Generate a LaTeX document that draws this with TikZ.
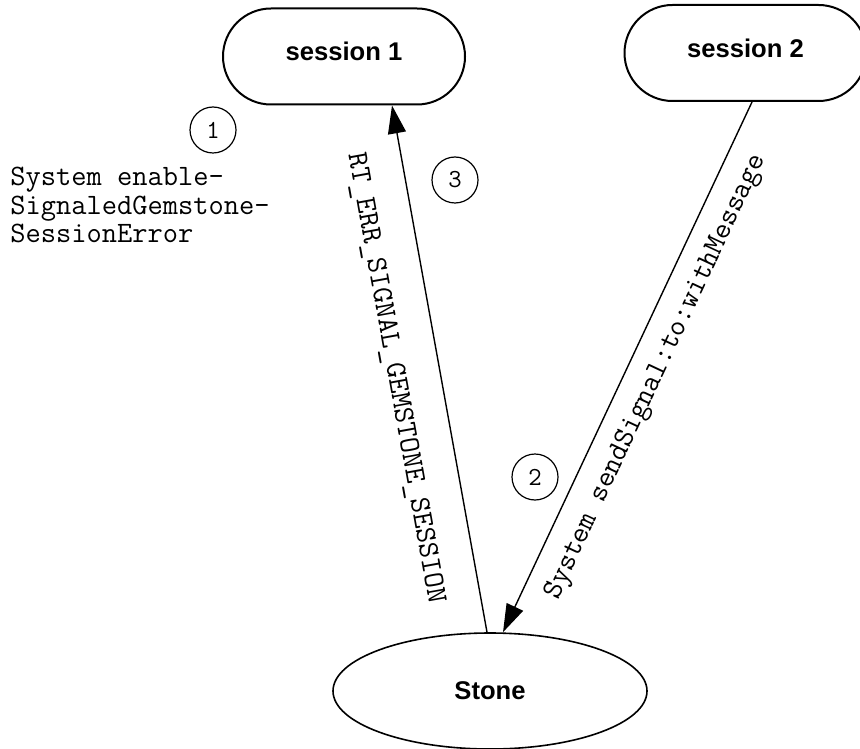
\documentclass[tikz,border=0pt]{standalone}
\usepackage{fontspec}
\setsansfont{Liberation Sans}
\usetikzlibrary{shapes.misc,shapes.geometric}
\usetikzlibrary{arrows,arrows.meta}
\usetikzlibrary{calc}

\begin{document}
\begin{tikzpicture}[x=0.5pt,y=-0.5pt,
    sess/.style={draw, line width=1pt, rounded rectangle, minimum width=121pt, minimum height=48pt, inner sep=0pt,
        font={\sffamily\bfseries\fontsize{12.8}{15}\selectfont}, text height=9.3pt, text depth=5pt},
    stoneshape/.style={draw, line width=0.8pt, ellipse, minimum width=157pt, minimum height=58pt, inner sep=0pt,
        font={\sffamily\bfseries\fontsize{12.8}{15}\selectfont}},
    num/.style={draw, circle, line width=0.6pt, minimum size=23pt, inner sep=0pt, font={\ttfamily\fontsize{13}{14}\selectfont}},
    lbl/.style={inner sep=0pt, font={\ttfamily\fontsize{14.8}{14.25}\selectfont}},
    arr/.style={line width=0.7pt, -{Triangle[length=14pt,width=9pt]}}]

    \useasboundingbox (0,0) rectangle (860,748);

    \node[sess] (s1) at (344,56.5) {session 1};
    \node[sess] (s2) at (745.5,53) {session 2};
    \node[stoneshape] (stone) at (490,691) {Stone};

    \node[num] (n1) at (213,130) {1};
    \node[num] (n3) at (455,180) {3};
    \node[num] (n2) at (535,477) {2};

    % signal path
    \draw[arr] ([xshift=3.25pt]s2.south) -- ([xshift=6.5pt]stone.north);
    \draw[arr] ([xshift=-1.5pt]stone.north) -- ([xshift=24pt]s1.south);

    \node[lbl, align=left, anchor=north west] (enlbl) at (10,167) {System enable-\\SignaledGemstone-\\SessionError};
    \node[lbl, rotate=-79.8] (errlbl) at (395,378) {RT\_ERR\_SIGNAL\_GEMSTONE\_SESSION};
    \node[lbl, rotate=64.9] (sendlbl) at (656,377) {System sendSignal:to:withMessage};

\end{tikzpicture}
\end{document}
